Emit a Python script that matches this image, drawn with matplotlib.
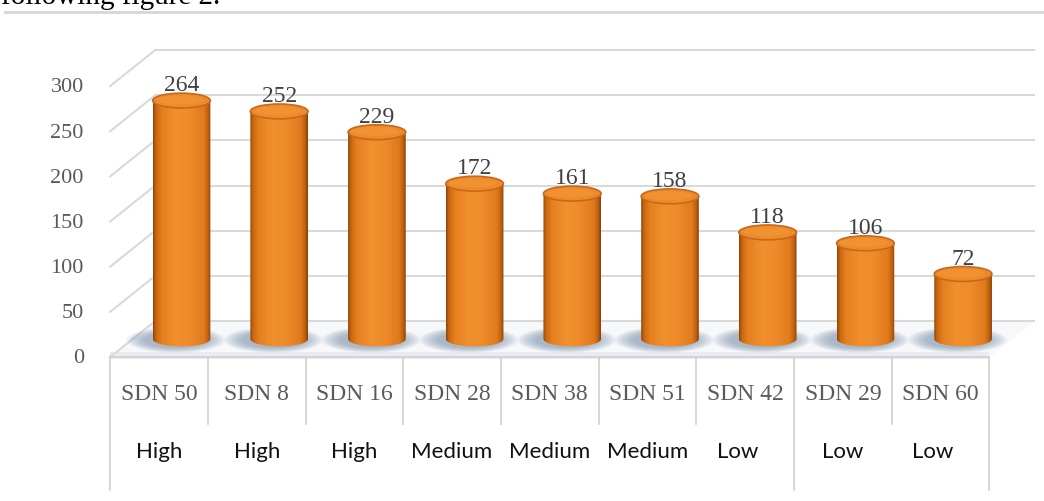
import matplotlib
matplotlib.use("Agg")
import matplotlib.pyplot as plt
import numpy as np
from matplotlib.patches import Ellipse, PathPatch, Polygon
from matplotlib.path import Path
from matplotlib.colors import LinearSegmentedColormap

# data
sites = ["SDN 50", "SDN 8", "SDN 16", "SDN 28", "SDN 38", "SDN 51", "SDN 42", "SDN 29", "SDN 60"]
levels = ["High", "High", "High", "Medium", "Medium", "Medium", "Low", "Low", "Low"]
values = [264, 252, 229, 172, 161, 158, 118, 106, 72]
yticks = [0, 50, 100, 150, 200, 250, 300]

# layout (pixel based, 1044x501)
PX_X = 97.7      # px per category
PX_Y = 0.903     # px per value unit
X0 = 159         # px of first category centre (front)
Y0 = 357         # px of value 0 (front)
DX = 45 / PX_X   # depth offset in data units
DY = 36 / PX_Y
BAR_W = 0.59
ELL_H = 16.5
GRID = "#d9d9d9"
level_nudge = [0, 0, 0, 0, 0, 0, -0.08, 0, -0.08]

fig = plt.figure(figsize=(10.44, 5.01), dpi=100)
ax = fig.add_axes([0, 0, 1, 1])
xlim = (-X0 / PX_X, (1044 - X0) / PX_X)
ylim = (-(501 - Y0) / PX_Y, Y0 / PX_Y)

n = len(values)
left, right = -0.5, n - 0.5

# floor
ax.add_patch(Polygon([(left, 0), (right, 0), (right + DX, DY), (left + DX, DY)],
                     closed=True, facecolor="#f7f8fa", edgecolor="none", zorder=1))
ax.add_patch(Polygon([(left, -2), (right, -2), (right, 6), (left, 6)],
                     closed=True, facecolor="#e8ecf1", edgecolor="none", zorder=1))

# side wall diagonals and back wall grid
for t in yticks:
    ax.plot([left, left + DX], [t, t + DY], color=GRID, lw=1.5, zorder=2)
    ax.plot([left + DX, right + DX], [t + DY, t + DY], color=GRID, lw=1.5, zorder=2)
    ax.text(left - 0.27, t - 2, str(t), ha="right", va="center", fontsize=16,
            family="Liberation Serif", color="#5a5a5a", zorder=5)

# table
ax.plot([left, right], [0, 0], color="#d0d0d0", lw=1.2, zorder=3)
full = {0, 7, 9}
for k in range(n + 1):
    yb = -147 if k in full else -74
    ax.plot([left + k, left + k], [0, yb], color="#d0d0d0", lw=1.2, zorder=3)
for i in range(n):
    ax.text(i, -42, sites[i], ha="center", va="center", fontsize=17,
            family="Liberation Serif", color="#5a5a5a")
    ax.text(i + level_nudge[i], -105, levels[i], ha="center", va="center", fontsize=16,
            family="Lato", color="#111111")

# cylinders
cmap = LinearSegmentedColormap.from_list(
    "cyl", [(0.0, "#8a4407"), (0.05, "#c9670f"), (0.15, "#e57f1f"), (0.4, "#f1902f"),
            (0.65, "#ee8a2a"), (0.88, "#e07a1d"), (0.96, "#bb5c0d"), (1.0, "#7f3d06")])
grad = np.linspace(0, 1, 256).reshape(1, -1)
base = DY / 2
th = np.linspace(np.pi, 2 * np.pi, 60)
for i, v in enumerate(values):
    cx = i + DX / 2
    x0, x1 = cx - BAR_W / 2, cx + BAR_W / 2
    top = base + v
    # shadow
    for k in range(8):
        f = 1 - k / 8
        ax.add_patch(Ellipse((cx - 0.06, base - 1), BAR_W + 0.42 * f, ELL_H + 12 * f,
                             facecolor="#6f85a3", edgecolor="none", alpha=0.09, zorder=4))
    # body
    arc_x = cx + BAR_W / 2 * np.cos(th)
    arc_y = base + ELL_H / 2 * np.sin(th)
    verts = [(x0, top)] + list(zip(arc_x, arc_y)) + [(x1, top), (x0, top)]
    codes = [Path.MOVETO] + [Path.LINETO] * (len(verts) - 2) + [Path.CLOSEPOLY]
    body = PathPatch(Path(verts, codes), facecolor="none", edgecolor="none")
    ax.add_patch(body)
    im = ax.imshow(grad, cmap=cmap, extent=[x0, x1, base - ELL_H, top], aspect="auto",
                   zorder=5, interpolation="bicubic")
    im.set_clip_path(body)
    # top cap
    ax.add_patch(Ellipse((cx, top), BAR_W, ELL_H, facecolor="#ee8a2b",
                         edgecolor="#c8681a", lw=1.2, zorder=6))
    ax.add_patch(Ellipse((cx - 0.02, top + 0.8), BAR_W * 0.82, ELL_H * 0.6,
                         facecolor="#f39637", edgecolor="none", alpha=0.6, zorder=6))
    ax.text(cx, top + ELL_H / 2 + 2, str(v), ha="center", va="baseline", fontsize=17,
            family="Liberation Serif", color="#404040", zorder=7)

# page rule and cut-off caption above the chart
ax.plot([xlim[0] + 0.05, xlim[1]], [382, 382], color="#d6d6d6", lw=2)
fig.text(1 / 1044, 1 - 4 / 501, "following figure 2.", ha="left", va="baseline",
         fontsize=21, family="Liberation Serif", color="#000000")

ax.set_xlim(*xlim)
ax.set_ylim(*ylim)
ax.axis("off")
fig.savefig("out.png", dpi=100)
